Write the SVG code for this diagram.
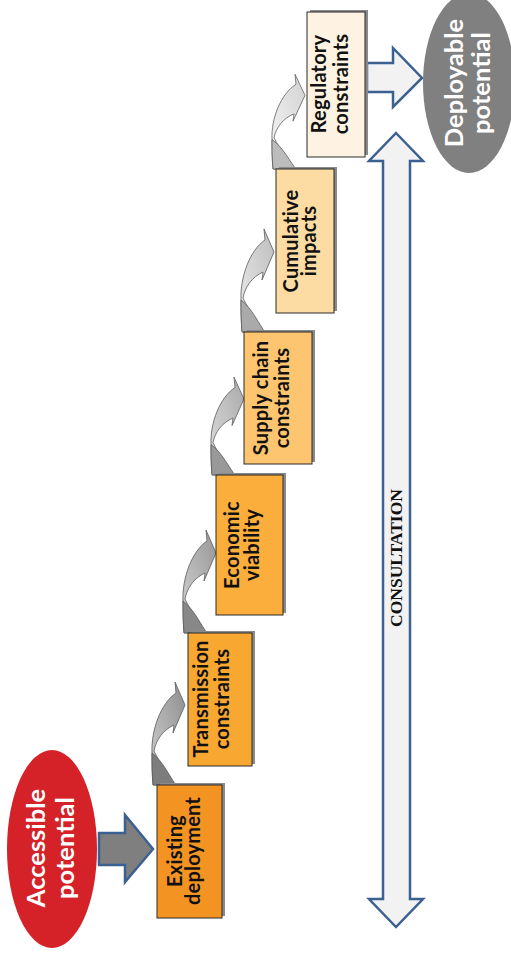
<svg xmlns="http://www.w3.org/2000/svg" width="511" height="959" viewBox="0 0 511 959">
<defs>
<style>
.box{stroke:#2b2b2b;stroke-width:1}
.shadow{fill:#8a8a8a}
.bt{font-family:Lato,"Liberation Sans",sans-serif;font-weight:bold;font-size:20px;letter-spacing:0.2px;fill:#111;text-anchor:middle}
.et{font-family:Lato,"Liberation Sans",sans-serif;font-weight:bold;font-size:25.5px;fill:#fff;text-anchor:middle}
.blue{stroke:#3b6190;stroke-width:2.5;stroke-linejoin:miter}
.cur{stroke:#5a5a5a;stroke-width:0.8}
.ct{font-family:"Liberation Serif",serif;font-weight:bold;font-size:17.5px;fill:#111;text-anchor:middle}
</style>
<linearGradient id="g1" x1="0" y1="1" x2="1" y2="0"><stop offset="0" stop-color="#cfcfcf"/><stop offset="1" stop-color="#8e8e8e"/></linearGradient>
<linearGradient id="g2" x1="0" y1="1" x2="1" y2="0"><stop offset="0" stop-color="#d2d2d2"/><stop offset="1" stop-color="#979797"/></linearGradient>
<linearGradient id="g3" x1="0" y1="1" x2="1" y2="0"><stop offset="0" stop-color="#dedede"/><stop offset="1" stop-color="#a9a9a9"/></linearGradient>
<linearGradient id="g4" x1="0" y1="1" x2="1" y2="0"><stop offset="0" stop-color="#ebebeb"/><stop offset="1" stop-color="#bdbdbd"/></linearGradient>
<linearGradient id="g5" x1="0" y1="1" x2="1" y2="0"><stop offset="0" stop-color="#f6f6f6"/><stop offset="1" stop-color="#d2d2d2"/></linearGradient>
<path id="cupper" d="M0,0 C-1,-12 -1,-22 -1,-32 C-2,-55 8,-82 23,-92 L22,-103 L32,-80 L20,-52 L21,-60 C10,-55 3,-45 1,-34 C8,-20 16,-5 23,0 Z"/>
<path id="clower" d="M0,0 C-1,-12 -1,-22 -1,-32 C10,-24 18,-6 23,0 Z"/>
</defs>
<rect width="511" height="959" fill="#fff"/>

<g id="connectors">
  <g id="arrow-accessible-existing">
    <path class="blue" fill="#7f7f7f" d="M99,833 L125,833 L125,815 L153,849 L125,882 L125,865 L99,865 Z"/>
  </g>
  <g id="curve1" transform="translate(153,785)">
    <use href="#cupper" class="cur" fill="url(#g1)"/>
    <use href="#clower" class="cur" fill="#7d7d7d"/>
  </g>
  <g id="curve2" transform="translate(184,633)">
    <use href="#cupper" class="cur" fill="url(#g2)"/>
    <use href="#clower" class="cur" fill="#888"/>
  </g>
  <g id="curve3" transform="translate(212,475) scale(1,0.95)">
    <use href="#cupper" class="cur" fill="url(#g3)"/>
    <use href="#clower" class="cur" fill="#999"/>
  </g>
  <g id="curve4" transform="translate(242,332)">
    <use href="#cupper" class="cur" fill="url(#g4)"/>
    <use href="#clower" class="cur" fill="#aaa"/>
  </g>
  <g id="curve5" transform="translate(273,169) scale(1,0.92)">
    <use href="#cupper" class="cur" fill="url(#g5)"/>
    <use href="#clower" class="cur" fill="#bcbcbc"/>
  </g>
  <g id="arrow-regulatory-deployable">
    <path class="blue" fill="#f2f2f2" d="M367,63 L393,63 L393,48 L422,78 L393,107 L393,92 L367,92 Z"/>
  </g>
  <g id="consultation">
    <path class="blue" fill="#f2f2f2" d="M396,133 L423,161 L410,161 L410,899 L423,899 L396,927 L369,899 L383,899 L383,161 L369,161 Z"/>
    <text class="ct" transform="translate(402,558) rotate(-90)">CONSULTATION</text>
  </g>
</g>

<g id="accessible">
  <ellipse cx="52" cy="849" rx="45" ry="99" fill="#d52128"/>
  <text class="et" transform="translate(45,848) rotate(-90)">Accessible</text>
  <text class="et" transform="translate(74,848) rotate(-90)">potential</text>
</g>

<g id="existing">
  <rect class="shadow" x="160" y="783" width="65" height="133"/>
  <rect class="box" x="157" y="785" width="65" height="133" fill="#f39422"/>
  <text class="bt" transform="translate(182,851) rotate(-90)">Existing</text>
  <text class="bt" transform="translate(200,851) rotate(-90)">deployment</text>
</g>

<g id="transmission">
  <rect class="shadow" x="191" y="631" width="64" height="133"/>
  <rect class="box" x="188" y="633" width="64" height="133" fill="#f8a731"/>
  <text class="bt" transform="translate(208,699) rotate(-90)">Transmission</text>
  <text class="bt" transform="translate(229,699) rotate(-90)">constraints</text>
</g>

<g id="economic">
  <rect class="shadow" x="219" y="473" width="67" height="140"/>
  <rect class="box" x="216" y="475" width="67" height="140" fill="#fbae3c"/>
  <text class="bt" transform="translate(239,545) rotate(-90)">Economic</text>
  <text class="bt" transform="translate(259,545) rotate(-90)">viability</text>
</g>

<g id="supply">
  <rect class="shadow" x="247" y="330" width="68" height="132"/>
  <rect class="box" x="244" y="332" width="68" height="132" fill="#fdc56f"/>
  <text class="bt" transform="translate(268,398) rotate(-90)">Supply chain</text>
  <text class="bt" transform="translate(289,398) rotate(-90)">constraints</text>
</g>

<g id="cumulative">
  <rect class="shadow" x="279" y="167" width="58" height="144"/>
  <rect class="box" x="276" y="169" width="58" height="144" fill="#fddca3"/>
  <text class="bt" transform="translate(298,241) rotate(-90)">Cumulative</text>
  <text class="bt" transform="translate(316,241) rotate(-90)">impacts</text>
</g>

<g id="regulatory">
  <rect class="shadow" x="310" y="10" width="58" height="145"/>
  <rect class="box" x="307" y="12" width="58" height="145" fill="#fef3e2"/>
  <text class="bt" transform="translate(326,84) rotate(-90)">Regulatory</text>
  <text class="bt" transform="translate(348,84) rotate(-90)">constraints</text>
</g>

<g id="deployable">
  <ellipse cx="469" cy="83" rx="46" ry="90" fill="#808080"/>
  <text class="et" transform="translate(463,83) rotate(-90)">Deployable</text>
  <text class="et" transform="translate(490,83) rotate(-90)">potential</text>
</g>
</svg>
